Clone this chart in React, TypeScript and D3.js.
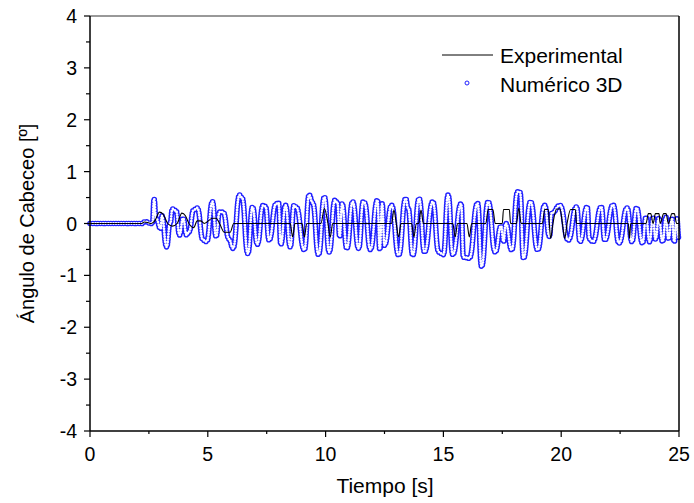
import React from "react";
import * as d3 from "d3";

const xTicks = [0, 5, 10, 15, 20, 25];
const xMinorTicks = [2.5, 7.5, 12.5, 17.5, 22.5];
const yTicks = [-4, -3, -2, -1, 0, 1, 2, 3, 4];
const yMinorTicks = [-3.5, -2.5, -1.5, -0.5, 0.5, 1.5, 2.5, 3.5];

// Numérico 3D: turning points (time s, angle º)
const numTimes = [0, 2.2, 2.35, 2.5, 2.65, 2.72, 2.8, 3.0, 3.05, 3.25, 3.4, 3.5, 3.65, 3.8, 3.95, 4.1, 4.2, 4.4, 4.55, 4.8, 4.95, 5.2, 5.35, 5.5, 5.65, 5.9, 6.07, 6.35, 6.45, 6.7, 6.9, 7.1, 7.35, 7.45, 7.6, 7.9, 8.0, 8.1, 8.3, 8.5, 8.66, 8.75, 9.1, 9.3, 9.45, 9.7, 9.95, 10.15, 10.4, 10.5, 10.6, 10.7, 10.9, 11.15, 11.4, 11.6, 11.65, 11.9, 12.2, 12.3, 12.4, 12.5, 12.8, 13.1, 13.4, 13.5, 13.7, 13.97, 14.2, 14.55, 14.8, 15.0, 15.2, 15.4, 15.75, 15.85, 16.1, 16.45, 16.62, 16.9, 17.2, 17.45, 17.55, 17.65, 17.9, 18.15, 18.25, 18.4, 18.7, 19.0, 19.3, 19.5, 19.6, 19.95, 20.3, 20.65, 20.8, 21.1, 21.2, 21.35, 21.7, 21.85, 22.2, 22.45, 22.8, 23.0, 23.2, 23.45, 23.6, 23.75, 23.9, 24.0, 24.15, 24.3, 24.45, 24.55, 24.7, 24.8, 24.9, 25.0];
const numValues = [0, 0, 0.04, 0.01, 0.0, 0.47, 0.1, -0.1, 0.15, -0.45, 0.0, 0.28, 0.25, -0.22, 0.1, -0.22, -0.16, 0.26, 0.3, -0.32, -0.35, 0.42, -0.25, 0.22, 0.22, -0.3, -0.48, 0.55, 0.5, -0.58, 0.32, -0.4, 0.35, 0.33, -0.32, 0.38, 0.4, -0.4, 0.35, -0.45, 0.35, 0.32, -0.51, 0.55, 0.4, -0.6, 0.51, -0.55, 0.45, 0.4, -0.25, 0.38, -0.48, 0.42, -0.48, 0.42, 0.4, -0.5, 0.45, -0.5, 0.38, -0.42, 0.35, -0.61, 0.48, 0.3, -0.61, 0.48, -0.55, 0.42, -0.55, -0.6, 0.55, -0.6, 0.38, -0.65, -0.67, 0.39, -0.83, 0.42, -0.55, -0.05, -0.35, 0.0, -0.51, 0.61, 0.6, -0.67, 0.42, -0.51, 0.35, -0.25, 0.2, 0.35, -0.32, 0.32, -0.35, 0.32, -0.3, -0.35, 0.32, -0.32, 0.36, -0.38, 0.3, -0.35, 0.3, -0.38, 0.12, -0.35, 0.12, -0.3, 0.1, -0.35, 0.12, -0.3, 0.1, -0.35, 0.1, -0.3];

// Experimental: turning points
const expTimes = [0, 2.2, 2.3, 2.45, 2.6, 2.75, 2.95, 3.1, 3.3, 3.5, 3.7, 3.9, 4.05, 4.2, 4.4, 4.55, 4.7, 4.85, 5.2, 5.35, 5.5, 5.7, 5.95, 6.1, 8.5, 8.6, 8.7, 9.0, 9.1, 9.2, 9.8, 9.95, 10.1, 10.2, 10.3, 12.8, 12.9, 13.0, 13.1, 13.2, 13.65, 13.75, 13.85, 13.95, 14.05, 14.15, 15.4, 15.5, 15.6, 16.0, 16.1, 16.2, 16.8, 16.9, 17.1, 17.2, 17.5, 17.55, 17.8, 17.85, 18.1, 18.2, 18.3, 19.2, 19.3, 19.45, 19.55, 19.65, 19.8, 19.95, 20.05, 20.15, 20.25, 20.4, 20.6, 20.65, 22.85, 22.9, 22.95, 23.6, 23.7, 23.8, 23.9, 24.0, 24.15, 24.2, 24.35, 24.45, 24.55, 24.7, 24.8, 24.9, 25.0];
const expValues = [0, 0, 0.03, 0.02, 0, 0.05, 0.22, 0.18, 0.0, -0.05, 0.0, 0.2, 0.15, 0.0, -0.08, 0.05, 0.05, 0.0, 0.1, 0.1, 0.0, -0.17, -0.17, 0, 0, -0.26, 0, 0, -0.26, 0, 0, 0.29, 0, -0.26, 0, 0, 0.26, 0, -0.26, 0, 0, -0.26, 0, 0, 0.26, 0, 0, -0.26, 0, 0, -0.26, 0, 0, 0.27, 0.27, 0, 0, 0.27, 0.27, 0, 0, 0.3, 0, 0, 0.27, 0.27, -0.29, 0, 0.28, 0.28, 0, -0.29, 0, 0.27, 0.27, 0, 0, -0.29, 0, 0, 0.19, 0.19, 0, 0.19, 0.19, 0, 0.19, 0.19, 0, 0.19, 0.19, 0, 0];

const W = 694;
const H = 503;
const FONT = "'Liberation Sans', Arial, Helvetica, sans-serif";

export default function App() {
  const x = d3.scaleLinear().domain([0, 25]).range([90, 679]);
  const y = d3.scaleLinear().domain([-4, 4]).range([431, 16]);

  const numData = numTimes.map((t, i) => [t, numValues[i]] as [number, number]);
  const expData = expTimes.map((t, i) => [t, expValues[i]] as [number, number]);

  const numLine = d3
    .line<[number, number]>()
    .x((d) => x(d[0]))
    .y((d) => y(d[1]))
    .curve(d3.curveBumpX);
  const expLine = d3
    .line<[number, number]>()
    .x((d) => x(d[0]))
    .y((d) => y(d[1]))
    .curve(d3.curveMonotoneX);

  const numPath = numLine(numData) || "";
  const expPath = expLine(expData) || "";

  return (
    <svg
      width={W}
      height={H}
      style={{ position: "fixed", left: 0, top: 0, background: "#fff" }}
      fontFamily={FONT}
    >
      <rect x={0} y={0} width={W} height={H} fill="#fff" />
      {/* Numerical series as chains of hollow circles */}
      <path
        d={numPath}
        fill="none"
        stroke="#1f1fff"
        strokeWidth={5.6}
        strokeDasharray="0 2.6"
        strokeLinecap="round"
      />
      <path
        d={numPath}
        fill="none"
        stroke="#fff"
        strokeWidth={2.8}
        strokeDasharray="0 2.6"
        strokeLinecap="round"
      />
      {/* Experimental */}
      <path d={expPath} fill="none" stroke="#000" strokeWidth={1.1} />

      {/* Frame */}
      <line x1={90} x2={679} y1={16} y2={16} stroke="#333" strokeWidth={1} />
      <line x1={679} x2={679} y1={16} y2={431} stroke="#000" strokeWidth={1.5} />
      <line x1={90} x2={90} y1={16} y2={431} stroke="#000" strokeWidth={1.5} />
      <line x1={90} x2={679} y1={431} y2={431} stroke="#000" strokeWidth={1.5} />

      {/* X ticks */}
      {xTicks.map((t) => (
        <g key={"xt" + t}>
          <line x1={x(t)} x2={x(t)} y1={431} y2={437} stroke="#000" strokeWidth={1.2} />
          <text x={x(t)} y={461} fontSize={19.5} textAnchor="middle" fill="#000">
            {t}
          </text>
        </g>
      ))}
      {xMinorTicks.map((t) => (
        <line key={"xm" + t} x1={x(t)} x2={x(t)} y1={431} y2={434} stroke="#000" strokeWidth={1.2} />
      ))}

      {/* Y ticks */}
      {yTicks.map((t) => (
        <g key={"yt" + t}>
          <line x1={84} x2={90} y1={y(t)} y2={y(t)} stroke="#000" strokeWidth={1.2} />
          <text x={77} y={y(t) + 7} fontSize={19.5} textAnchor="end" fill="#000">
            {t}
          </text>
        </g>
      ))}
      {yMinorTicks.map((t) => (
        <line key={"ym" + t} x1={86} x2={90} y1={y(t)} y2={y(t)} stroke="#000" strokeWidth={1.2} />
      ))}

      {/* Axis titles */}
      <text x={385} y={493} fontSize={21} textAnchor="middle" fill="#000">
        Tiempo [s]
      </text>
      <text
        transform={`translate(34, ${y(0)}) rotate(-90)`}
        fontSize={20}
        textAnchor="middle"
        fill="#000"
      >
        Ángulo de Cabeceo [º]
      </text>

      {/* Legend */}
      <line x1={442} x2={493} y1={55} y2={55} stroke="#000" strokeWidth={1} />
      <text x={500} y={63} fontSize={21} fill="#000">
        Experimental
      </text>
      <circle cx={467} cy={83} r={2} fill="none" stroke="#1f1fff" strokeWidth={1} />
      <text x={500} y={92} fontSize={21} fill="#000">
        Numérico 3D
      </text>
    </svg>
  );
}
